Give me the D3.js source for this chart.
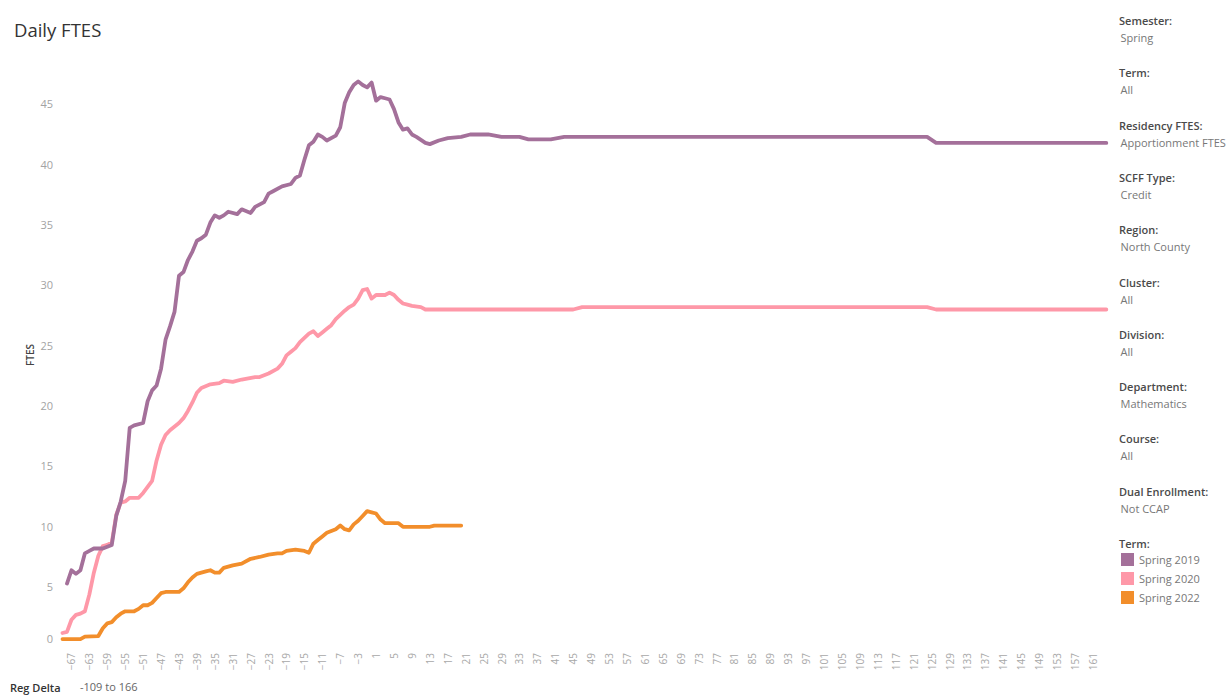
<!DOCTYPE html>
<html lang="en">
<head>
    <meta charset="UTF-8">
    <title>Daily FTES</title>
    <script src="https://d3js.org/d3.v7.min.js"></script>

    <style>
        html, body {
            padding: 0;
            margin: 0;
            background-color: white;
            overflow: hidden;
            font-family: "Open Sans", sans-serif;
        }
    </style>
</head>
    <body>
        <script>
            // дни относительно начала семестра и FTES по каждому терму
            const days_2019 = [-68, -67, -66, -65, -64, -63, -62, -60, -58, -57, -56, -55, -54, -53, -51, -50, -49, -48, -47, -46,
                -45, -44, -43, -42, -41, -40, -39, -38, -37, -36, -35, -34, -33, -32, -30, -29, -27, -26, -24, -23,
                -22, -20, -18, -17, -16, -15, -14, -13, -12, -11, -10, -8, -7, -6, -5, -4, -3, -2, -1, 0,
                1, 2, 3, 4, 5, 6, 7, 8, 9, 10, 12, 13, 15, 17, 20, 22, 26, 29, 33, 35, 40, 43, 124, 126, 164];
            const ftes_2019 = [5.3, 6.4, 6.1, 6.4, 7.8, 8.0, 8.2, 8.2, 8.5, 10.9, 12.1, 13.8, 18.2, 18.4, 18.6, 20.4, 21.3, 21.7, 23.1, 25.5,
                26.6, 27.8, 30.8, 31.1, 32.1, 32.8, 33.7, 33.9, 34.2, 35.2, 35.8, 35.6, 35.8, 36.1, 35.9, 36.3, 36.0, 36.5, 36.9, 37.6,
                37.8, 38.2, 38.4, 38.9, 39.1, 40.4, 41.6, 41.9, 42.5, 42.3, 42.0, 42.4, 43.1, 45.1, 46.0, 46.6, 46.9, 46.6, 46.4, 46.8,
                45.3, 45.6, 45.5, 45.4, 44.6, 43.5, 42.9, 43.0, 42.5, 42.3, 41.8, 41.7, 42.0, 42.2, 42.3, 42.5, 42.5, 42.3, 42.3, 42.1, 42.1, 42.3, 42.3, 41.8, 41.8];

            const days_2020 = [-69, -68, -67, -66, -65, -64, -63, -62, -61, -60, -59, -58, -57, -56, -55, -54, -52, -51, -50, -49,
                -48, -47, -46, -45, -43, -42, -41, -40, -39, -38, -36, -34, -33, -31, -29, -26, -25, -23, -21, -20,
                -19, -18, -17, -16, -14, -13, -12, -11, -10, -9, -8, -6, -5, -4, -3, -2, -1, 0, 1, 2,
                3, 4, 5, 6, 7, 8, 9, 11, 12, 45, 47, 124, 126, 164];
            const ftes_2020 = [1.2, 1.3, 2.3, 2.7, 2.8, 3.0, 4.4, 6.2, 7.6, 8.4, 8.5, 8.7, 11.0, 12.0, 12.1, 12.4, 12.4, 12.8, 13.3, 13.8,
                15.5, 16.8, 17.6, 18.0, 18.6, 19.0, 19.6, 20.3, 21.1, 21.5, 21.8, 21.9, 22.1, 22.0, 22.2, 22.4, 22.4, 22.7, 23.1, 23.5,
                24.2, 24.5, 24.8, 25.3, 26.0, 26.2, 25.8, 26.1, 26.4, 26.7, 27.2, 27.9, 28.2, 28.4, 28.9, 29.6, 29.7, 28.9, 29.2, 29.2,
                29.2, 29.4, 29.2, 28.8, 28.5, 28.4, 28.3, 28.2, 28.0, 28.0, 28.2, 28.2, 28.0, 28.0];

            const days_2022 = [-69, -65, -64, -61, -60, -59, -58, -57, -56, -55, -53, -52, -51, -50, -49, -48, -47, -46, -43, -42,
                -41, -40, -39, -37, -36, -35, -34, -33, -31, -29, -27, -25, -23, -21, -20, -19, -17, -15, -14, -13,
                -12, -11, -10, -8, -7, -6, -5, -4, -3, -2, -1, 0, 1, 2, 3, 6, 7, 13, 14, 20];
            const ftes_2022 = [0.7, 0.7, 0.9, 0.95, 1.6, 2.0, 2.1, 2.5, 2.8, 3.0, 3.0, 3.2, 3.5, 3.5, 3.7, 4.1, 4.5, 4.6, 4.6, 4.9,
                5.4, 5.8, 6.1, 6.3, 6.4, 6.2, 6.2, 6.6, 6.8, 6.95, 7.35, 7.5, 7.7, 7.8, 7.8, 8.0, 8.1, 8.0, 7.85, 8.6,
                8.9, 9.2, 9.5, 9.8, 10.1, 9.8, 9.7, 10.2, 10.5, 10.9, 11.3, 11.2, 11.1, 10.6, 10.3, 10.3, 10.0, 10.0, 10.1, 10.1];

            const terms = ["Spring 2019", "Spring 2020", "Spring 2022"];
            const term_colors = ["#a4709a", "#fe98a8", "#f28e2b"];

            const x_ticks = [-67, -63, -59, -55, -51, -47, -43, -39, -35, -31, -27, -23, -19, -15, -11, -7, -3, 1, 5, 9,
                13, 17, 21, 25, 29, 33, 37, 41, 45, 49, 53, 57, 61, 65, 69, 73, 77, 81, 85, 89,
                93, 97, 101, 105, 109, 113, 117, 121, 125, 129, 133, 137, 141, 145, 149, 153, 157, 161];
            const y_ticks = [0, 5, 10, 15, 20, 25, 30, 35, 40, 45];

            const filter_names = ["Semester:", "Term:", "Residency FTES:", "SCFF Type:", "Region:", "Cluster:",
                "Division:", "Department:", "Course:", "Dual Enrollment:"];
            const filter_values = ["Spring", "All", "Apportionment FTES", "Credit", "North County", "All",
                "All", "Mathematics", "All", "Not CCAP"];

            let width = 1231;
            let height = 696;

            let series = [
                {term: terms[0], color: term_colors[0], points: days_2019.map((d, i) => ({day: d, value: ftes_2019[i]}))},
                {term: terms[1], color: term_colors[1], points: days_2020.map((d, i) => ({day: d, value: ftes_2020[i]}))},
                {term: terms[2], color: term_colors[2], points: days_2022.map((d, i) => ({day: d, value: ftes_2022[i]}))}
            ];

            const svg = d3.select("body")
                .append("svg")
                .attr("width", width)
                .attr("height", height)
                .style("display", "block");

            let x = d3.scaleLinear().domain([-69, 165]).range([62.5, 1110.8]);
            let y = d3.scaleLinear().domain([0, 45]).range([647.5, 104.3]);

            // заголовок
            svg.append("text")
                .attr("x", 14)
                .attr("y", 37)
                .style("font-size", "18.5px")
                .style("fill", "#333")
                .text("Daily FTES");

            // ось Y
            const y_axis = svg.append("g")
                .attr("transform", "translate(55,0)")
                .call(d3.axisLeft(y).tickValues(y_ticks).tickSize(0).tickPadding(2));
            y_axis.select(".domain").remove();
            y_axis.selectAll("text")
                .style("font-family", "\"Open Sans\", sans-serif")
                .style("font-size", "11px")
                .style("fill", "#a3a3a3");
            // нижняя подпись в Tableau поднимается, чтобы не обрезалась
            y_axis.selectAll(".tick")
                .filter(d => d === 0)
                .select("text")
                .attr("y", -8.5);

            svg.append("text")
                .attr("transform", "translate(34,355) rotate(-90)")
                .attr("text-anchor", "middle")
                .style("font-size", "10px")
                .style("font-weight", "600")
                .style("fill", "#444")
                .text("FTES");

            // ось X
            const x_axis = svg.append("g")
                .attr("transform", "translate(0,650)")
                .call(d3.axisBottom(x).tickValues(x_ticks).tickSize(0));
            x_axis.select(".domain").remove();
            x_axis.selectAll("text")
                .attr("transform", "rotate(-90)")
                .attr("x", -3)
                .attr("y", 0)
                .attr("dy", "0.35em")
                .style("text-anchor", "end")
                .style("font-family", "\"Open Sans\", sans-serif")
                .style("font-size", "10px")
                .style("fill", "#a8a8a8");

            // линии
            const line = d3.line()
                .x(d => x(d.day))
                .y(d => y(d.value));

            svg.append("g")
                .selectAll("path")
                .data([series[1], series[2], series[0]])
                .join("path")
                .attr("d", d => line(d.points))
                .attr("fill", "none")
                .attr("stroke", d => d.color)
                .attr("stroke-width", 3.8)
                .attr("stroke-linejoin", "round")
                .attr("stroke-linecap", "round");

            // фильтры справа
            const filters = svg.append("g")
                .selectAll("g")
                .data(filter_names)
                .join("g")
                .attr("transform", (d, i) => `translate(1119,${25 + i * 52.3})`);
            filters.append("text")
                .style("font-size", "11px")
                .style("font-weight", "600")
                .style("fill", "#4a4a4a")
                .text(d => d);
            filters.append("text")
                .attr("x", 1.5)
                .attr("y", 17)
                .style("font-size", "11px")
                .style("fill", "#777")
                .text((d, i) => filter_values[i]);

            // легенда
            svg.append("text")
                .attr("x", 1119)
                .attr("y", 548)
                .style("font-size", "11px")
                .style("font-weight", "600")
                .style("fill", "#4a4a4a")
                .text("Term:");

            const legend = svg.append("g")
                .selectAll("g")
                .data(series)
                .join("g")
                .attr("transform", (d, i) => `translate(1121,${553 + i * 19})`);
            legend.append("rect")
                .attr("width", 13)
                .attr("height", 13)
                .attr("fill", d => d.color);
            legend.append("text")
                .attr("x", 18)
                .attr("y", 11)
                .style("font-size", "11px")
                .style("fill", "#777")
                .text(d => d.term);

            // фильтр по Reg Delta внизу
            svg.append("text")
                .attr("x", 10)
                .attr("y", 692)
                .style("font-size", "11px")
                .style("font-weight", "600")
                .style("fill", "#333")
                .text("Reg Delta");
            svg.append("text")
                .attr("x", 80)
                .attr("y", 691)
                .style("font-size", "11px")
                .style("fill", "#666")
                .text("-109 to 166");
        </script>

    </body>
</html>
